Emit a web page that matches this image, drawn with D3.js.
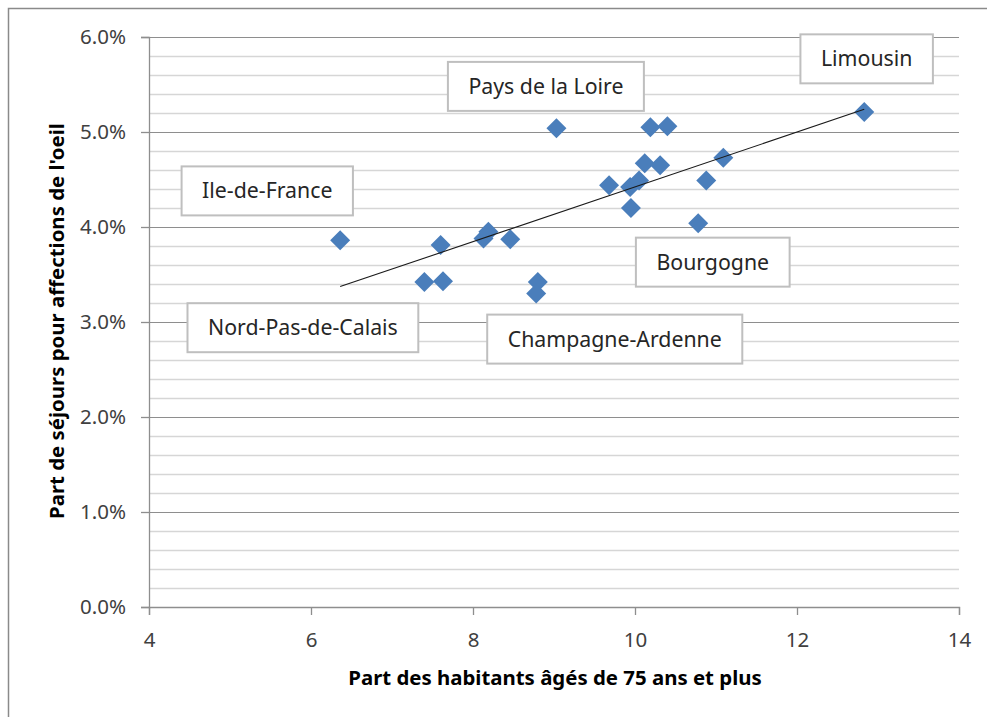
<!DOCTYPE html>
<html>
<head>
<meta charset="utf-8">
<script src="https://cdn.jsdelivr.net/npm/d3@7"></script>
<style>
  body { margin: 0; background: #fff; }
  text { font-family: "Noto Sans", sans-serif; }
</style>
</head>
<body>
<svg id="chart" width="987" height="717"></svg>
<script>
// share of residents aged 75+ (x) vs share of eye-related hospital stays (y, %)
var ageShare = [6.36, 7.40, 7.63, 7.60, 8.13, 8.19, 8.46, 8.80, 8.78, 9.03, 9.68,
                9.94, 10.05, 9.95, 10.12, 10.31, 10.19, 10.40, 11.09, 10.88, 10.78, 12.83];
var eyeShare = [3.86, 3.42, 3.43, 3.81, 3.88, 3.95, 3.87, 3.42, 3.30, 5.04, 4.44,
                4.42, 4.49, 4.20, 4.67, 4.65, 5.05, 5.06, 4.73, 4.49, 4.04, 5.21];

var xTicks = [4, 6, 8, 10, 12, 14];
var yTicks = [0, 1, 2, 3, 4, 5, 6];

// callout labels, anchored in data units
var calloutText = ["Ile-de-France", "Pays de la Loire", "Limousin", "Bourgogne", "Nord-Pas-de-Calais", "Champagne-Ardenne"];
var calloutX = [5.46, 8.90, 12.86, 10.96, 5.90, 9.75];
var calloutY = [4.38, 5.48, 5.77, 3.63, 2.94, 2.82];

var svg = d3.select("#chart");
var plotL = 149, plotR = 959, plotT = 37, plotB = 607;

var x = d3.scaleLinear().domain([4, 14]).range([plotL, plotR]);
var y = d3.scaleLinear().domain([0, 6]).range([plotB, plotT]);

// outer chart frame (cut by the picture edge on the right and bottom)
svg.append("rect")
  .attr("x", 8.5).attr("y", 8.5)
  .attr("width", 1000).attr("height", 720)
  .attr("fill", "none")
  .attr("stroke", "#8a8a8a")
  .attr("stroke-width", 1.5);

// minor gridlines every 0.2%
var minor = d3.range(0, 6.01, 0.2).filter(function(v) { return Math.abs(v - Math.round(v)) > 0.01; });
svg.append("g").selectAll("line").data(minor).join("line")
  .attr("x1", plotL).attr("x2", plotR)
  .attr("y1", function(d) { return Math.round(y(d)) + 0.5; })
  .attr("y2", function(d) { return Math.round(y(d)) + 0.5; })
  .attr("stroke", "#d6d6d6").attr("stroke-width", 1.3);

svg.append("g").selectAll("line").data(yTicks.slice(1)).join("line")
  .attr("x1", plotL).attr("x2", plotR)
  .attr("y1", function(d) { return Math.round(y(d)) + 0.5; })
  .attr("y2", function(d) { return Math.round(y(d)) + 0.5; })
  .attr("stroke", "#8e8e8e").attr("stroke-width", 1.2);

// axes
var yAxis = svg.append("g")
  .attr("transform", "translate(" + plotL + ",0)")
  .call(d3.axisLeft(y).tickValues(yTicks).tickSize(8).tickPadding(15)
    .tickFormat(function(d) { return d.toFixed(1) + "%"; }));
var xAxis = svg.append("g")
  .attr("transform", "translate(0," + plotB + ")")
  .call(d3.axisBottom(x).tickValues(xTicks).tickSize(8).tickPadding(17));

[yAxis, xAxis].forEach(function(ax) {
  ax.select(".domain").attr("stroke", "#8e8e8e").attr("stroke-width", 1.3);
  ax.selectAll(".tick line").attr("stroke", "#8e8e8e").attr("stroke-width", 1.3);
  ax.selectAll(".tick text")
    .attr("fill", "#404040")
    .style("font-family", "'Noto Sans', sans-serif")
    .style("font-size", "20.5px");
});

// axis titles
svg.append("text")
  .attr("x", 555).attr("y", 685)
  .attr("text-anchor", "middle")
  .style("font-size", "20.4px").style("font-weight", "bold")
  .text("Part des habitants âgés de 75 ans et plus");

svg.append("text")
  .attr("transform", "translate(64,321) rotate(-90)")
  .attr("text-anchor", "middle")
  .style("font-size", "20.4px").style("font-weight", "bold")
  .text("Part de séjours pour affections de l'oeil");

// linear trendline (least squares)
var mx = d3.mean(ageShare), my = d3.mean(eyeShare);
var sxy = d3.sum(ageShare, function(v, i) { return (v - mx) * (eyeShare[i] - my); });
var sxx = d3.sum(ageShare, function(v) { return (v - mx) * (v - mx); });
var slope = sxy / sxx, icpt = my - slope * mx;
var ext = d3.extent(ageShare);

// points
var diamond = d3.symbol().type(d3.symbolSquare).size(200);
svg.append("g").selectAll("path").data(d3.range(ageShare.length)).join("path")
  .attr("d", diamond)
  .attr("transform", function(i) { return "translate(" + x(ageShare[i]) + "," + y(eyeShare[i]) + ") rotate(45)"; })
  .attr("fill", "#4a7ebb");

// trendline drawn over the markers like Excel does
svg.append("line")
  .attr("x1", x(ext[0])).attr("y1", y(icpt + slope * ext[0]))
  .attr("x2", x(ext[1])).attr("y2", y(icpt + slope * ext[1]))
  .attr("stroke", "#1a1a1a").attr("stroke-width", 1.1);

// callouts
var callouts = svg.append("g").selectAll("g").data(d3.range(calloutText.length)).join("g")
  .attr("transform", function(i) { return "translate(" + x(calloutX[i]) + "," + y(calloutY[i]) + ")"; });

callouts.append("text")
  .attr("text-anchor", "middle")
  .attr("dy", "0.35em")
  .attr("fill", "#262626")
  .style("font-size", "21.3px")
  .text(function(i) { return calloutText[i]; });

callouts.insert("rect", "text")
  .each(function(i) {
    var w = this.parentNode.querySelector("text").getComputedTextLength() + 41;
    d3.select(this)
      .attr("x", -w / 2).attr("y", -24.5)
      .attr("width", w).attr("height", 49);
  })
  .attr("fill", "#fff")
  .attr("stroke", "#bfbfbf")
  .attr("stroke-width", 2);
</script>
</body>
</html>
